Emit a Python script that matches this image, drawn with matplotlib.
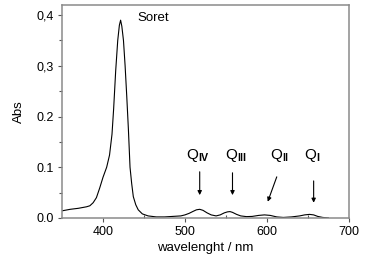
#!/usr/bin/env python3
"""UV-vis spectrum with Soret and Q bands."""

import matplotlib
matplotlib.use('Agg')
import matplotlib.pyplot as plt
from matplotlib.ticker import MultipleLocator, FixedLocator

plt.rcParams['font.family'] = ['Liberation Sans', 'DejaVu Sans']
plt.rcParams['mathtext.fontset'] = 'custom'
plt.rcParams['mathtext.rm'] = 'Liberation Sans'
plt.rcParams['mathtext.bf'] = 'Liberation Sans:bold'

# spectrum
wavelength = [350, 360, 370, 380, 384, 388, 392, 396, 400, 404.5, 408, 411,
              413, 415.5, 418, 420, 421.5, 423, 425, 427, 429, 431, 433, 435,
              437, 440, 443, 448, 455, 465, 475, 485, 495, 500, 505, 510,
              514, 518, 522, 527, 532, 538, 543, 548, 552, 555, 558, 563,
              568, 575, 582, 590, 597, 604, 612, 620, 630, 640, 646, 652,
              657, 662, 668, 675]
absorbance = [0.014, 0.017, 0.019, 0.022, 0.024, 0.030, 0.040, 0.059, 0.080,
              0.100, 0.124, 0.165, 0.215, 0.290, 0.350, 0.380, 0.390, 0.378,
              0.350, 0.300, 0.240, 0.175, 0.100, 0.068, 0.042, 0.026, 0.016,
              0.008, 0.004, 0.002, 0.002, 0.003, 0.004, 0.006, 0.009, 0.013,
              0.016, 0.017, 0.015, 0.010, 0.006, 0.004, 0.006, 0.010, 0.012,
              0.0125, 0.011, 0.007, 0.004, 0.0026, 0.003, 0.005, 0.006, 0.005,
              0.002, 0.001, 0.002, 0.004, 0.006, 0.007, 0.006, 0.003, 0.001,
              0.0]

# band labels: text position, arrow tail, arrow head
band_labels = [r'Q$_{\mathbf{IV}}$', r'Q$_{\mathbf{III}}$',
               r'Q$_{\mathbf{II}}$', r'Q$_{\mathbf{I}}$']
label_x = [516, 563, 616, 655]
label_y = [0.124, 0.124, 0.124, 0.124]
tail_x = [518, 558, 612, 657]
tail_y = [0.091, 0.089, 0.081, 0.073]
head_x = [518, 558, 601, 657]
head_y = [0.045, 0.045, 0.032, 0.030]

y_ticks = [0.0, 0.1, 0.2, 0.3, 0.4]
y_tick_labels = ['0.0', '0.1', '0.2', '0,3', '0,4']
x_ticks = [400, 500, 600, 700]

fig = plt.figure(figsize=(3.78, 2.61), dpi=100)
ax = fig.add_axes([0.164, 0.165, 0.759, 0.816])

ax.plot(wavelength, absorbance, color='black', linewidth=0.8)

for lab, lx, ly, tx, ty, hx, hy in zip(band_labels, label_x, label_y,
                                       tail_x, tail_y, head_x, head_y):
    ax.text(lx, ly, lab, fontsize=11, ha='center', va='center')
    ax.annotate('', xy=(hx, hy), xytext=(tx, ty),
                arrowprops=dict(arrowstyle='-|>', color='black', lw=0.8,
                                mutation_scale=6, shrinkA=0, shrinkB=0))

ax.text(442, 0.394, 'Soret', fontsize=9.5, ha='left', va='center')

ax.set_xlim(350, 700)
ax.set_ylim(0, 0.42)
ax.set_xticks(x_ticks)
ax.xaxis.set_minor_locator(FixedLocator([450, 550, 650]))
ax.set_yticks(y_ticks)
ax.set_yticklabels(y_tick_labels)
ax.yaxis.set_minor_locator(MultipleLocator(0.05))

ax.tick_params(axis='both', which='major', direction='out', length=3,
               width=0.8, color='#555555', labelsize=9, pad=3)
ax.tick_params(axis='x', which='minor', direction='in', length=2,
               width=0.8, color='#555555')
ax.tick_params(axis='y', which='minor', direction='out', length=2,
               width=0.8, color='#555555')

for side in ['left', 'bottom', 'top', 'right']:
    ax.spines[side].set_color('#8a8a8a')
    ax.spines[side].set_linewidth(1.1)

ax.set_xlabel('wavelenght / nm', fontsize=9.5, labelpad=3)
ax.set_ylabel('Abs', fontsize=9.5, labelpad=8)

plt.savefig('out.png', dpi=100)
plt.close()
